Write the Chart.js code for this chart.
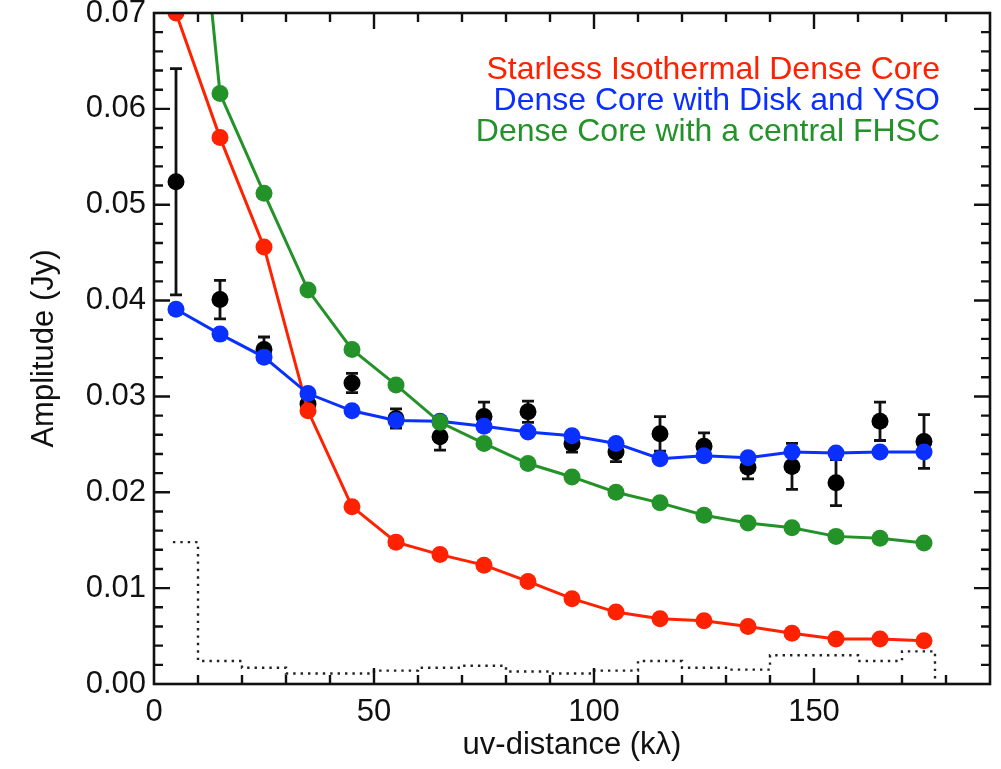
<!DOCTYPE html>
<html>
<head>
<meta charset="utf-8">
<script src="https://cdn.jsdelivr.net/npm/chart.js@4/dist/chart.umd.min.js"></script>
<style>
  html, body { margin: 0; padding: 0; background: #ffffff; }
  #wrap { width: 1001px; height: 769px; }
</style>
</head>
<body>
<div id="wrap"><canvas id="chart" width="1001" height="769"></canvas></div>
<script>
// uv-distance bin centres (kλ)
const uvDistance = [5, 15, 25, 35, 45, 55, 65, 75, 85, 95, 105, 115, 125, 135, 145, 155, 165, 175];

// observed amplitudes and 1-sigma errors (Jy)
const ampObserved = [0.0524, 0.0401, 0.0349, 0.0292, 0.0314, 0.0277, 0.0258, 0.0279, 0.0284, 0.0251, 0.0242, 0.0261, 0.0248, 0.0226, 0.0227, 0.0210, 0.0274, 0.0253];
const ampError    = [0.0118, 0.0020, 0.0013, 0.0008, 0.0010, 0.0010, 0.0014, 0.0015, 0.0011, 0.0009, 0.0010, 0.0018, 0.0014, 0.0012, 0.0024, 0.0024, 0.0020, 0.0028];

// model amplitudes (Jy)
const ampStarless = [0.0700, 0.0570, 0.0456, 0.0285, 0.0185, 0.0148, 0.0135, 0.0124, 0.0107, 0.0089, 0.0075, 0.0068, 0.0066, 0.0060, 0.0053, 0.0047, 0.0047, 0.0045];
const ampDiskYSO  = [0.0391, 0.0365, 0.0341, 0.0303, 0.0285, 0.0275, 0.0274, 0.0269, 0.0263, 0.0259, 0.0251, 0.0235, 0.0238, 0.0236, 0.0242, 0.0241, 0.0242, 0.0242];
const ampFHSC     = [0.1080, 0.0616, 0.0512, 0.0411, 0.0349, 0.0312, 0.0273, 0.0251, 0.0230, 0.0216, 0.0200, 0.0189, 0.0176, 0.0168, 0.0163, 0.0154, 0.0152, 0.0147];

// zero-signal expectation, stepped per bin
const histEdges  = [4.3, 10, 20, 30, 40, 50, 60, 70, 80, 90, 100, 110, 120, 130, 140, 150, 160, 170, 177.5];
const histLevels = [0.0148, 0.0024, 0.0017, 0.0011, 0.0011, 0.0014, 0.0017, 0.0019, 0.0013, 0.0011, 0.0014, 0.0024, 0.0017, 0.0015, 0.0030, 0.0030, 0.0024, 0.0034, 0.0];

// axis labels
const xTickLabels = [0, 50, 100, 150];
const yTickLabels = ['0.00', '0.01', '0.02', '0.03', '0.04', '0.05', '0.06', '0.07'];
const seriesNames = ['Starless Isothermal Dense Core', 'Dense Core with Disk and YSO', 'Dense Core with a central FHSC'];

const RED = '#ff2200', BLUE = '#0a30ff', GREEN = '#239329', INK = '#111111';
const FONT = "'Liberation Sans', Arial, Helvetica, sans-serif";

const toPoints = (xs, ys) => xs.map((x, i) => ({ x: x, y: ys[i] }));

function modelSet(label, values, color, order) {
  return {
    label: label,
    data: toPoints(uvDistance, values),
    showLine: true,
    borderColor: color,
    backgroundColor: color,
    borderWidth: 3,
    pointRadius: 8.5,
    pointBorderWidth: 0,
    pointHoverRadius: 8.5,
    order: order
  };
}

// error bars under every mark
const errorBars = {
  id: 'errorBars',
  beforeDatasetsDraw(chart) {
    const { ctx, chartArea, scales: { x, y } } = chart;
    ctx.save();
    ctx.beginPath();
    ctx.rect(chartArea.left, chartArea.top, chartArea.right - chartArea.left, chartArea.bottom - chartArea.top);
    ctx.clip();
    ctx.strokeStyle = INK;
    ctx.lineWidth = 2.8;
    const cap = 6;
    uvDistance.forEach((u, i) => {
      const px = x.getPixelForValue(u);
      const yTop = y.getPixelForValue(ampObserved[i] + ampError[i]);
      const yBot = y.getPixelForValue(ampObserved[i] - ampError[i]);
      ctx.beginPath();
      ctx.moveTo(px, yTop); ctx.lineTo(px, yBot);
      ctx.moveTo(px - cap, yTop); ctx.lineTo(px + cap, yTop);
      ctx.moveTo(px - cap, yBot); ctx.lineTo(px + cap, yBot);
      ctx.stroke();
    });
    ctx.restore();
  }
};

// closed box with inward tick marks on all four sides
const boxFrame = {
  id: 'boxFrame',
  afterDraw(chart) {
    const { ctx, chartArea: a, scales: { x, y } } = chart;
    ctx.save();
    ctx.strokeStyle = INK;
    ctx.lineWidth = 2.6;
    ctx.lineCap = 'square';
    ctx.strokeRect(a.left, a.top, a.right - a.left, a.bottom - a.top);
    ctx.lineWidth = 2.4;
    ctx.lineCap = 'butt';
    ctx.beginPath();
    for (let k = 0; k <= 19; k++) {
      const v = k * 10;
      const px = x.getPixelForValue(v);
      if (px < a.left + 1 || px > a.right - 1) continue;
      const len = (v % 50 === 0) ? 16 : 9;
      ctx.moveTo(px, a.bottom); ctx.lineTo(px, a.bottom - len);
      ctx.moveTo(px, a.top); ctx.lineTo(px, a.top + len);
    }
    for (let k = 0; k <= 35; k++) {
      const v = k * 0.002;
      const py = y.getPixelForValue(v);
      if (py < a.top + 1 || py > a.bottom - 1) continue;
      const len = (k % 5 === 0) ? 16 : 9;
      ctx.moveTo(a.left, py); ctx.lineTo(a.left + len, py);
      ctx.moveTo(a.right, py); ctx.lineTo(a.right - len, py);
    }
    ctx.stroke();
    ctx.restore();
  }
};

// coloured model names, right aligned in the upper right corner
const modelKey = {
  id: 'modelKey',
  afterDraw(chart) {
    const { ctx } = chart;
    ctx.save();
    ctx.font = '32px ' + FONT;
    ctx.textAlign = 'right';
    ctx.textBaseline = 'alphabetic';
    const colors = [RED, BLUE, GREEN];
    const baselines = [79, 110, 141];
    seriesNames.forEach((name, i) => {
      ctx.fillStyle = colors[i];
      ctx.fillText(name, 940, baselines[i]);
    });
    ctx.restore();
  }
};

Chart.defaults.font.family = FONT;
Chart.defaults.color = INK;

new Chart(document.getElementById('chart'), {
  type: 'scatter',
  data: {
    datasets: [
      modelSet(seriesNames[2], ampFHSC, GREEN, 0),
      modelSet(seriesNames[1], ampDiskYSO, BLUE, 1),
      modelSet(seriesNames[0], ampStarless, RED, 2),
      {
        label: 'Observed',
        data: toPoints(uvDistance, ampObserved),
        showLine: false,
        backgroundColor: '#000000',
        borderWidth: 0,
        pointRadius: 8.5,
        order: 3
      },
      {
        label: 'Zero-signal expectation',
        data: toPoints(histEdges, histLevels),
        showLine: true,
        stepped: 'before',
        borderColor: '#222222',
        borderWidth: 2.4,
        borderDash: [2.4, 5],
        pointRadius: 0,
        order: 4
      }
    ]
  },
  options: {
    responsive: false,
    animation: false,
    devicePixelRatio: 1,
    layout: { padding: { left: 0, right: 11, top: 13, bottom: 0 } },
    plugins: {
      legend: { display: false },
      tooltip: { enabled: false }
    },
    scales: {
      x: {
        type: 'linear',
        min: 0,
        max: 190,
        grid: { display: false, drawTicks: false },
        border: { display: false },
        ticks: {
          stepSize: 50,
          padding: 10,
          font: { size: 31 },
          color: INK,
          maxRotation: 0,
          autoSkip: false,
          callback: (v) => xTickLabels.includes(v) ? String(v) : ''
        },
        title: {
          display: true,
          text: 'uv-distance (kλ)',
          font: { size: 31 },
          color: INK,
          padding: { top: 0, bottom: 5 }
        },
        afterFit(scale) {
          scale.height = 85;
          scale.paddingLeft = 0; scale.paddingRight = 0;
        }
      },
      y: {
        type: 'linear',
        min: 0,
        max: 0.07,
        grid: { display: false, drawTicks: false },
        border: { display: false },
        ticks: {
          stepSize: 0.01,
          padding: 8,
          font: { size: 31 },
          color: INK,
          autoSkip: false,
          callback: (v) => yTickLabels[Math.round(v / 0.01)]
        },
        title: {
          display: true,
          text: 'Amplitude (Jy)',
          font: { size: 31 },
          color: INK,
          padding: { top: 26, bottom: 0 }
        },
        afterFit(scale) {
          scale.width = 154;
          scale.paddingTop = 0; scale.paddingBottom = 0;
        }
      }
    }
  },
  plugins: [errorBars, boxFrame, modelKey]
});
</script>
</body>
</html>
